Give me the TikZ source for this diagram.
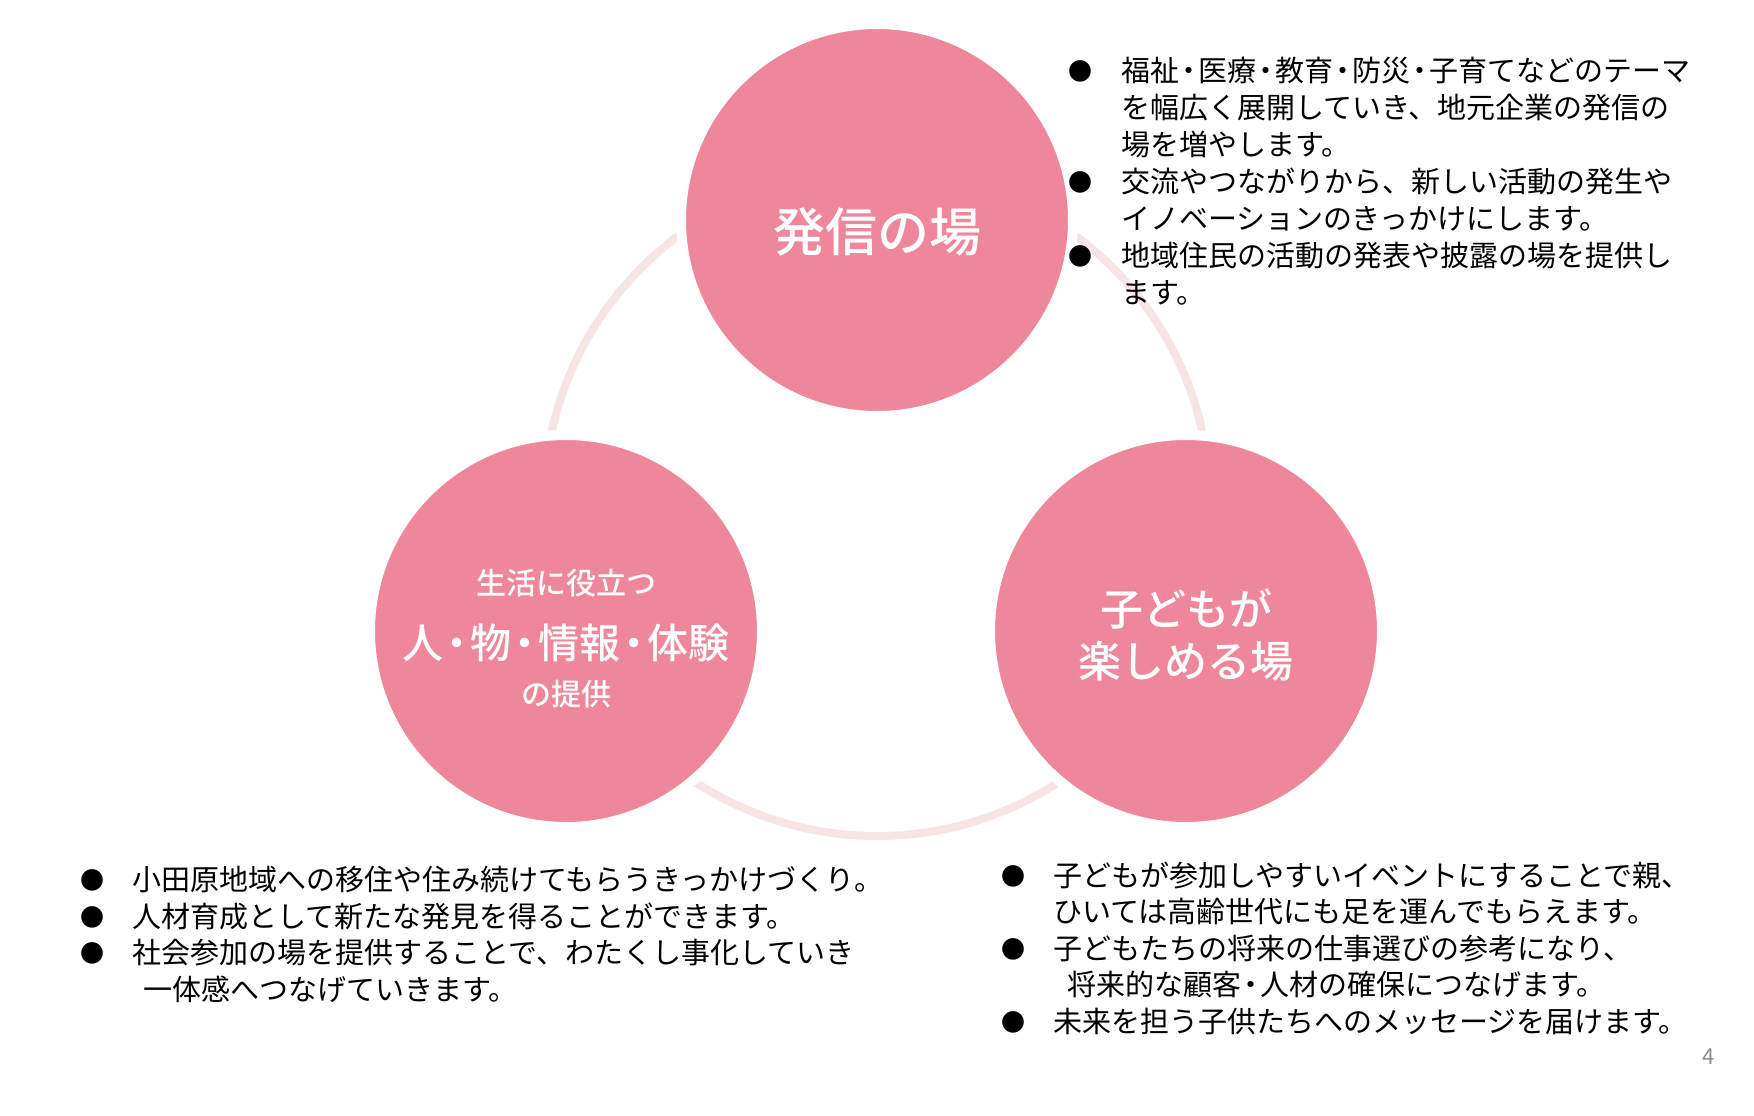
\documentclass[tikz,border=0pt]{standalone}
\usepackage{fontspec}
\setmainfont{Noto Sans CJK JP}
\newfontfamily\jpmoyen{Noto Sans CJK JP Medium}
\definecolor{roseCercle}{HTML}{EE8799}
\definecolor{roseAnneau}{HTML}{F7E4E4}
\definecolor{grisPage}{HTML}{8C8C8C}
\newcommand{\pnt}{\kern-0.17em・\kern-0.17em}

\tikzset{
  rond/.style={circle, fill=roseCercle, draw=white, line width=10pt, minimum size=392pt, inner sep=0pt},
  anneau/.style={draw=roseAnneau, line width=8pt},
  titre/.style={text=white, align=center, inner sep=0pt},
  ligne/.style={anchor=west, inner sep=0pt, text height=25pt, text depth=3.5pt, font=\fontsize{29}{34}\selectfont},
  puce/.style={inner sep=0pt, font=\fontsize{24}{28}\selectfont}
}

\begin{document}
\begin{tikzpicture}[x=1pt,y=-1pt]
                  \useasboundingbox (0,0) rectangle (1754,1116);

                  % Anneau de fond
                  \coordinate (centre) at (877,503);
                  \draw[anneau] (centre) circle[radius=333pt];

                  % Les trois cercles
                  \node[rond] (emission) at (877,220) {};
                  \node[rond] (vie) at (566,631) {};
                  \node[rond] (enfants) at (1186,631) {};

                  % Textes des cercles
                  \node[titre, font=\jpmoyen\fontsize{52}{60}\selectfont] (tEmission) at (877,232) {発信の場};
                  \node[titre, font=\jpmoyen\fontsize{30}{36}\selectfont] (tVie1) at (566,583) {生活に役立つ};
                  \node[titre, font=\jpmoyen\fontsize{41}{48}\selectfont] (tVie2) at (566,643) {人\pnt 物\pnt 情報\pnt 体験};
                  \node[titre, font=\jpmoyen\fontsize{30}{36}\selectfont] (tVie3) at (566,694) {の提供};
                  \node[titre, font=\jpmoyen\fontsize{43}{52}\selectfont] (tEnfants) at (1186,635) {子どもが\\楽しめる場};

                  % Liste en haut a droite
                  \foreach \y [count=\i] in {71,182,256} {
                          \node[puce] (puceH\i) at (1080,\y) {●};
                      }
                  \foreach \y/\txt [count=\i] in {71/福祉\pnt 医療\pnt 教育\pnt 防災\pnt 子育てなどのテーマ,
                                                  108/を幅広く展開していき、地元企業の発信の,
                                                  145/場を増やします。,
                                                  182/交流やつながりから、新しい活動の発生や,
                                                  219/イノベーションのきっかけにします。,
                                                  256/地域住民の活動の発表や披露の場を提供し,
                                                  293/ます。} {
                          \node[ligne] (ligneH\i) at (1121,\y) {\txt};
                      }

                  % Liste en bas a gauche
                  \foreach \y [count=\i] in {880,917,953} {
                          \node[puce] (puceG\i) at (92,\y) {●};
                      }
                  \foreach \x/\y/\txt [count=\i] in {132/880/小田原地域への移住や住み続けてもらうきっかけづくり。,
                                                     132/917/人材育成として新たな発見を得ることができます。,
                                                     132/953/社会参加の場を提供することで、わたくし事化していき,
                                                     143/990/一体感へつなげていきます。} {
                          \node[ligne] (ligneG\i) at (\x,\y) {\txt};
                      }

                  % Liste en bas a droite
                  \foreach \y [count=\i] in {876,949,1022} {
                          \node[puce] (puceD\i) at (1013,\y) {●};
                      }
                  \foreach \x/\y/\txt [count=\i] in {1053/876/子どもが参加しやすいイベントにすることで親、,
                                                     1053/912/ひいては高齢世代にも足を運んでもらえます。,
                                                     1053/949/子どもたちの将来の仕事選びの参考になり、,
                                                     1067/985/将来的な顧客\pnt 人材の確保につなげます。,
                                                     1053/1022/未来を担う子供たちへのメッセージを届けます。} {
                          \node[ligne] (ligneD\i) at (\x,\y) {\txt};
                      }

                  % Numero de page
                  \node[text=grisPage, font=\fontsize{22}{26}\selectfont, inner sep=0pt] (page) at (1709,1057) {4};
              \end{tikzpicture}
\end{document}
